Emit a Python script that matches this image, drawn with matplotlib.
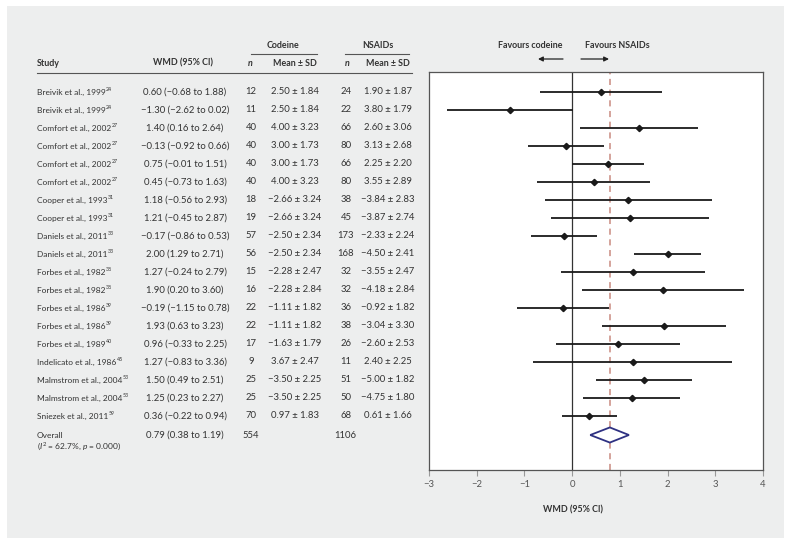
import matplotlib as mpl
import matplotlib.pyplot as plt
from matplotlib.patches import Rectangle, Polygon

plt.rcParams['font.family'] = ['Lato', 'DejaVu Sans']
plt.rcParams['mathtext.fontset'] = 'custom'
plt.rcParams['mathtext.rm'] = 'Lato'
plt.rcParams['mathtext.it'] = 'Lato:italic'
plt.rcParams['mathtext.bf'] = 'Lato:bold'

# data
studies = ['Breivik et al., 1999', 'Breivik et al., 1999', 'Comfort et al., 2002',
           'Comfort et al., 2002', 'Comfort et al., 2002', 'Comfort et al., 2002',
           'Cooper et al., 1993', 'Cooper et al., 1993', 'Daniels et al., 2011',
           'Daniels et al., 2011', 'Forbes et al., 1982', 'Forbes et al., 1982',
           'Forbes et al., 1986', 'Forbes et al., 1986', 'Forbes et al., 1989',
           'Indelicato et al., 1986', 'Malmstrom et al., 2004', 'Malmstrom et al., 2004',
           'Sniezek et al., 2011']
refs = [24, 24, 27, 27, 27, 27, 31, 31, 33, 33, 38, 38, 39, 39, 40, 45, 53, 53, 59]
wmd = [0.60, -1.30, 1.40, -0.13, 0.75, 0.45, 1.18, 1.21, -0.17, 2.00,
       1.27, 1.90, -0.19, 1.93, 0.96, 1.27, 1.50, 1.25, 0.36]
ci_lo = [-0.68, -2.62, 0.16, -0.92, -0.01, -0.73, -0.56, -0.45, -0.86, 1.29,
         -0.24, 0.20, -1.15, 0.63, -0.33, -0.83, 0.49, 0.23, -0.22]
ci_hi = [1.88, 0.02, 2.64, 0.66, 1.51, 1.63, 2.93, 2.87, 0.53, 2.71,
         2.79, 3.60, 0.78, 3.23, 2.25, 3.36, 2.51, 2.27, 0.94]
cod_n = [12, 11, 40, 40, 40, 40, 18, 19, 57, 56, 15, 16, 22, 22, 17, 9, 25, 25, 70]
cod_mean = [2.50, 2.50, 4.00, 3.00, 3.00, 4.00, -2.66, -2.66, -2.50, -2.50,
            -2.28, -2.28, -1.11, -1.11, -1.63, 3.67, -3.50, -3.50, 0.97]
cod_sd = [1.84, 1.84, 3.23, 1.73, 1.73, 3.23, 3.24, 3.24, 2.34, 2.34,
          2.47, 2.84, 1.82, 1.82, 1.79, 2.47, 2.25, 2.25, 1.83]
nsa_n = [24, 22, 66, 80, 66, 80, 38, 45, 173, 168, 32, 32, 36, 38, 26, 11, 51, 50, 68]
nsa_mean = [1.90, 3.80, 2.60, 3.13, 2.25, 3.55, -3.84, -3.87, -2.33, -4.50,
            -3.55, -4.18, -0.92, -3.04, -2.60, 2.40, -5.00, -4.75, 0.61]
nsa_sd = [1.87, 1.79, 3.06, 2.68, 2.20, 2.89, 2.83, 2.74, 2.24, 2.41,
          2.47, 2.84, 1.82, 3.30, 2.53, 2.25, 1.82, 1.80, 1.66]
overall_est, overall_lo, overall_hi = 0.79, 0.38, 1.19
overall_n_cod, overall_n_nsa = 554, 1106
overall_het = '($I^2$ = 62.7%, $p$ = 0.000)'
x_ticks = [-3, -2, -1, 0, 1, 2, 3, 4]

W, H = 791, 545
TXT = '#333333'

# font sizes (the reference face is narrower than Lato, so a compromise
# between the glyph height and the column widths)
FS_NAME = 6.0
FS_SUP = 3.8
FS_NUM = 6.8
FS_BOLD = 6.4


def fmt(v):
    return f'{v:.2f}'.replace('-', '\u2212')


fig = plt.figure(figsize=(W / 100, H / 100), dpi=100)
fig.patch.set_facecolor('white')

# full-figure axes in pixel units for the table
bg = fig.add_axes([0, 0, 1, 1])
bg.set_xlim(0, W)
bg.set_ylim(H, 0)
bg.axis('off')
bg.add_patch(Rectangle((7, 6), 777, 532, facecolor='#EDEEEE', edgecolor='none', zorder=0))

row0, step = 92, 18
n_rows = len(studies)


def cell(x, y, s, ha='center', fs=FS_NUM, **kw):
    return bg.text(x, y, s, fontsize=fs, color=TXT, va='center', ha=ha, **kw)


# header
cell(37, 63, 'Study', ha='left', fs=FS_BOLD, fontweight='bold')
cell(183, 63, 'WMD (95% CI)', fs=FS_BOLD, fontweight='bold')
cell(250, 63, 'n', fs=FS_BOLD, fontweight='bold', style='italic')
cell(295, 63, 'Mean ± SD', fs=FS_BOLD, fontweight='bold')
cell(347, 63, 'n', fs=FS_BOLD, fontweight='bold', style='italic')
cell(388, 63, 'Mean ± SD', fs=FS_BOLD, fontweight='bold')
cell(283, 45, 'Codeine', fs=FS_BOLD, fontweight='bold')
cell(378, 45, 'NSAIDs', fs=FS_BOLD, fontweight='bold')
bg.plot([251, 317], [54, 54], color='#555555', lw=0.8)
bg.plot([345, 409], [54, 54], color='#555555', lw=0.8)
bg.plot([37, 412], [73, 73], color='#555555', lw=0.8)

for i in range(n_rows):
    y = row0 + step * i
    t = cell(37, y, studies[i], ha='left', fs=FS_NAME)
    bg.annotate(str(refs[i]), xy=(1, 0.8), xycoords=t, xytext=(0.3, 0),
                textcoords='offset points', fontsize=FS_SUP, color=TXT, va='center', ha='left')
    cell(185, y, f'{fmt(wmd[i])} ({fmt(ci_lo[i])} to {fmt(ci_hi[i])})')
    cell(251, y, str(cod_n[i]))
    cell(295, y, f'{fmt(cod_mean[i])} ± {fmt(cod_sd[i])}')
    cell(346, y, str(nsa_n[i]))
    cell(388, y, f'{fmt(nsa_mean[i])} ± {fmt(nsa_sd[i])}')

y_ov = row0 + step * n_rows + 1
cell(37, y_ov, 'Overall', ha='left', fs=FS_NAME)
cell(37, y_ov + 11, overall_het, ha='left', fs=FS_NAME)
cell(185, y_ov, f'{fmt(overall_est)} ({fmt(overall_lo)} to {fmt(overall_hi)})')
cell(251, y_ov, str(overall_n_cod))
cell(345, y_ov, str(overall_n_nsa))

# favours labels and arrows
cell(530, 45, 'Favours codeine', fs=FS_BOLD, fontweight='bold')
cell(617, 45, 'Favours NSAIDs', fs=FS_BOLD, fontweight='bold')
arrow = dict(arrowstyle='-|>', color='#222222', lw=0.9, mutation_scale=7, shrinkA=0, shrinkB=0)
bg.annotate('', xy=(538, 59), xytext=(563, 59), arrowprops=arrow)
bg.annotate('', xy=(609, 59), xytext=(581, 59), arrowprops=arrow)

# forest plot axes
left, right, top, bottom = 429, 763, 72, 470
ax = fig.add_axes([left / W, 1 - bottom / H, (right - left) / W, (bottom - top) / H])
ax.set_facecolor('white')
ax.set_xlim(-3, 4)
ax.set_ylim((bottom - row0) / step, (top - row0) / step)
ax.set_yticks([])
ax.set_xticks(x_ticks)
ax.set_xticklabels([str(t).replace('-', '\u2212') for t in x_ticks])
ax.tick_params(axis='x', direction='out', length=4, width=0.8, color='#999999',
               labelsize=FS_NUM, labelcolor='#555555', pad=3)
for s in ax.spines.values():
    s.set_color('#555555')
    s.set_linewidth(0.9)

rows = list(range(n_rows))
ax.axvline(0, color='#333333', lw=0.9, zorder=1)
ax.axvline(overall_est, color='#C98A80', lw=1.1, ls=(0, (4, 3)), zorder=1)
ax.hlines(rows, ci_lo, ci_hi, color='#1A1A1A', lw=1.3, zorder=2)
ax.plot(wmd, rows, 'D', color='#1A1A1A', markersize=3.2, zorder=3)

yo = n_rows + 1 / 18
hh = 0.42
ax.add_patch(Polygon([(overall_lo, yo), (overall_est, yo - hh), (overall_hi, yo), (overall_est, yo + hh)],
                     closed=True, facecolor='white', edgecolor='#2E3182', lw=1.3, zorder=4))

cell(573, 510, 'WMD (95% CI)', fs=FS_BOLD, fontweight='bold')

fig.savefig('out.png', dpi=100)
